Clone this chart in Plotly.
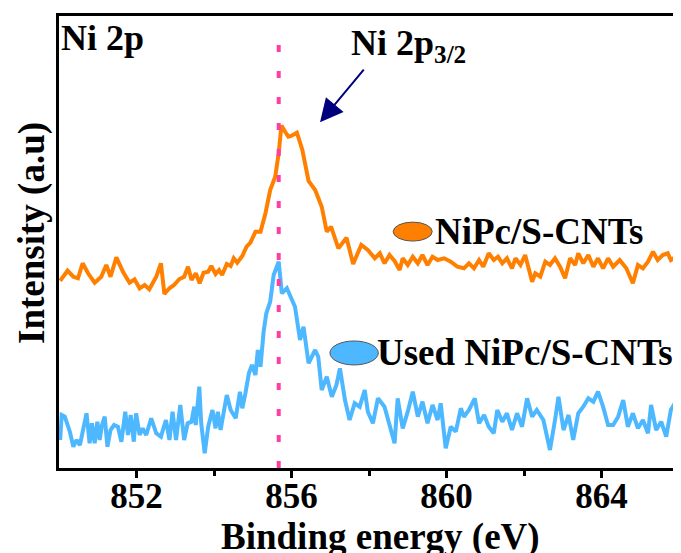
import plotly.graph_objects as go

# Binding energy (eV) and intensity (a.u.)
ev_nipc = [850.03, 850.22, 850.37, 850.49, 850.61, 850.75, 850.92, 851.09, 851.22, 851.33,
           851.48, 851.65, 851.82, 851.95, 852.08, 852.21, 852.33, 852.51, 852.63, 852.72,
           852.85, 852.97, 853.10, 853.23, 853.33, 853.42, 853.53, 853.63, 853.73, 853.85,
           853.93, 854.04, 854.13, 854.21, 854.33, 854.43, 854.51, 854.60, 854.73, 854.84,
           854.94, 855.07, 855.20, 855.33, 855.45, 855.58, 855.67, 855.74, 855.84, 855.92,
           855.99, 856.14, 856.28, 856.44, 856.61, 856.78, 856.91, 857.02, 857.21, 857.42,
           857.59, 857.80, 857.97, 858.15, 858.28, 858.40, 858.53, 858.66, 858.79, 858.87,
           859.00, 859.13, 859.26, 859.38, 859.51, 859.64, 859.77, 859.94, 860.11, 860.28,
           860.45, 860.58, 860.71, 860.84, 860.95, 861.09, 861.22, 861.33, 861.44, 861.56,
           861.69, 861.78, 861.91, 862.03, 862.21, 862.29, 862.42, 862.55, 862.67, 862.80,
           862.93, 863.06, 863.19, 863.32, 863.40, 863.53, 863.66, 863.79, 863.91, 864.04,
           864.17, 864.30, 864.47, 864.64, 864.81, 864.94, 865.07, 865.20, 865.33, 865.45,
           865.58, 865.71, 865.79, 865.92]
int_nipc = [187.3, 197.3, 191.3, 189.7, 204.7, 194.7, 185.3, 191.3, 203.0, 191.3,
            210.7, 196.3, 185.3, 188.7, 179.7, 183.0, 178.7, 191.3, 204.7, 174.0,
            179.7, 183.0, 188.7, 191.3, 201.3, 188.0, 194.7, 184.7, 195.3, 196.3,
            202.0, 194.0, 198.0, 193.0, 204.0, 202.0, 209.7, 205.3, 212.0, 221.3,
            225.3, 236.3, 236.3, 255.0, 278.0, 291.3, 315.0, 342.5, 336.0, 331.3,
            332.0, 335.3, 318.0, 287.0, 278.0, 261.3, 236.3, 241.3, 219.7, 230.3,
            204.0, 223.0, 218.0, 209.7, 214.7, 204.7, 213.0, 207.0, 198.0, 209.7,
            203.0, 211.3, 204.7, 213.0, 203.0, 211.3, 208.0, 209.7, 206.3, 201.3,
            199.7, 204.7, 199.7, 208.0, 201.3, 214.7, 208.0, 211.3, 204.7, 209.7,
            199.7, 209.7, 203.0, 213.0, 186.3, 194.7, 191.3, 206.3, 203.0, 209.7,
            201.3, 189.7, 209.7, 203.0, 214.7, 204.7, 213.0, 201.3, 209.7, 199.7,
            209.7, 201.3, 208.0, 199.7, 184.7, 203.0, 199.7, 206.3, 216.3, 208.0,
            213.0, 214.7, 208.0, 211.3]

ev_used = [850.03, 850.07, 850.15, 850.28, 850.37, 850.45, 850.54, 850.62, 850.71, 850.79,
           850.85, 850.92, 850.99, 851.05, 851.11, 851.18, 851.25, 851.33, 851.42, 851.52,
           851.61, 851.71, 851.78, 851.85, 851.93, 851.99, 852.08, 852.16, 852.25, 852.38,
           852.51, 852.63, 852.76, 852.85, 852.93, 853.02, 853.13, 853.23, 853.32, 853.42,
           853.49, 853.53, 853.62, 853.67, 853.76, 853.85, 853.96, 854.04, 854.10, 854.17,
           854.24, 854.33, 854.43, 854.56, 854.67, 854.73, 854.81, 854.90, 854.98, 855.07,
           855.13, 855.20, 855.28, 855.35, 855.45, 855.54, 855.67, 855.75, 855.88, 855.97,
           856.09, 856.22, 856.31, 856.44, 856.61, 856.69, 856.78, 856.91, 857.04, 857.16,
           857.25, 857.38, 857.50, 857.63, 857.76, 857.89, 857.97, 858.10, 858.23, 858.40,
           858.53, 858.66, 858.74, 858.87, 859.00, 859.13, 859.26, 859.38, 859.51, 859.64,
           859.77, 859.85, 859.98, 860.11, 860.24, 860.37, 860.45, 860.58, 860.73, 860.84,
           860.97, 861.09, 861.22, 861.31, 861.44, 861.56, 861.69, 861.82, 861.95, 862.08,
           862.21, 862.33, 862.50, 862.67, 862.80, 862.89, 863.02, 863.15, 863.27, 863.40,
           863.53, 863.66, 863.79, 863.91, 864.04, 864.17, 864.30, 864.43, 864.56, 864.68,
           864.81, 864.94, 865.07, 865.20, 865.28, 865.41, 865.54, 865.67, 865.79, 865.92]
int_used = [28.0, 53.0, 51.3, 36.3, 21.3, 28.0, 23.0, 36.3, 54.7, 24.7,
            44.7, 24.7, 46.3, 28.0, 43.0, 51.3, 21.3, 38.0, 43.0, 41.3,
            26.3, 56.3, 33.0, 53.0, 26.3, 54.7, 33.0, 39.7, 33.0, 49.7,
            34.7, 31.3, 48.0, 28.0, 56.3, 28.0, 63.0, 28.0, 44.7, 46.3,
            61.3, 43.0, 81.3, 44.7, 14.7, 41.3, 58.0, 39.7, 56.3, 38.0,
            54.7, 73.0, 58.0, 49.7, 76.3, 59.7, 74.7, 94.7, 103.0, 93.0,
            118.0, 101.3, 136.3, 154.7, 166.3, 193.0, 206.3, 174.7, 179.7, 171.3,
            161.3, 128.0, 141.3, 104.7, 118.0, 111.3, 78.0, 91.3, 71.3, 83.0,
            99.7, 68.0, 48.0, 64.7, 61.3, 78.0, 56.3, 44.7, 69.7, 61.3,
            44.7, 24.7, 69.7, 39.7, 56.3, 76.3, 51.3, 66.3, 44.7, 63.0,
            48.0, 64.7, 19.7, 41.3, 36.3, 59.7, 51.3, 58.0, 69.7, 44.7,
            53.0, 41.3, 34.7, 58.0, 46.3, 54.7, 38.0, 54.7, 41.3, 69.7,
            51.3, 58.0, 48.0, 18.0, 48.0, 71.3, 38.0, 53.0, 28.0, 54.7,
            61.3, 69.7, 66.3, 76.3, 61.3, 43.0, 43.0, 51.3, 68.0, 41.3,
            54.7, 39.7, 48.0, 34.7, 63.0, 38.0, 46.3, 31.3, 58.0, 66.3]

peak_pos = 855.67
x_ticks = [852, 856, 860, 864]
x_minor_ticks = [854, 858, 862]

ORANGE = "#ff8000"
BLUE = "#4db8ff"
PINK = "#ff3ea5"
NAVY = "#00007f"
FONT = "Liberation Serif"

fig = go.Figure()
fig.add_trace(go.Scatter(x=ev_nipc, y=int_nipc, mode="lines",
                         line=dict(color=ORANGE, width=4), name="NiPc/S-CNTs"))
fig.add_trace(go.Scatter(x=ev_used, y=int_used, mode="lines",
                         line=dict(color=BLUE, width=4), name="Used NiPc/S-CNTs"))

fig.add_shape(type="line", xref="x", yref="paper", x0=peak_pos, x1=peak_pos,
              y0=0, y1=0.94, line=dict(color=PINK, width=4, dash="7px,19px"))

# legend-like ellipses
fig.add_shape(type="circle", xref="paper", yref="paper", x0=0.539, x1=0.602,
              y0=0.502, y1=0.544, fillcolor=ORANGE, line=dict(color="#555555", width=1))
fig.add_shape(type="circle", xref="paper", yref="paper", x0=0.437, x1=0.515,
              y0=0.228, y1=0.281, fillcolor=BLUE, line=dict(color="#555555", width=1))

ann_font = dict(family=FONT, size=37, color="black", weight="bold")
fig.add_annotation(xref="paper", yref="paper", x=0.603, y=0.524, text="NiPc/S-CNTs",
                   showarrow=False, xanchor="left", yanchor="middle", font=ann_font)
fig.add_annotation(xref="paper", yref="paper", x=0.51, y=0.256, text="Used NiPc/S-CNTs",
                   showarrow=False, xanchor="left", yanchor="middle", font=ann_font)
fig.add_annotation(xref="paper", yref="paper", x=0.0, y=1.0, text="Ni 2p",
                   showarrow=False, xanchor="left", yanchor="top",
                   font=dict(family=FONT, size=36, color="black", weight="bold"))
fig.add_annotation(xref="paper", yref="paper", x=0.467, y=0.935,
                   text="Ni 2p<sub>3/2</sub>",
                   showarrow=False, xanchor="left", yanchor="middle",
                   font=dict(family=FONT, size=36, color="black", weight="bold"))
fig.add_annotation(xref="paper", yref="paper", x=0.421, y=0.765, text="",
                   showarrow=True, ax=45, ay=-54, arrowcolor=NAVY, arrowwidth=2,
                   arrowhead=2, arrowsize=2.3)

# axis titles as annotations
title_font = dict(family=FONT, size=37, color="black", weight="bold")
fig.add_annotation(xref="paper", yref="paper", x=0.518, y=-0.153,
                   text="Binding energy (eV)", showarrow=False,
                   xanchor="center", yanchor="middle", font=title_font)
fig.add_annotation(xref="paper", yref="paper", x=-0.0435, y=0.52,
                   text="Intensity (a.u)", showarrow=False, textangle=-90,
                   xanchor="center", yanchor="middle", font=title_font)

# the page places the figure 8px in from the top-left corner
fig.update_layout(
    width=673, height=545,
    margin=dict(l=51, r=2, t=8, b=85, autoexpand=False),
    plot_bgcolor="white", paper_bgcolor="white",
    showlegend=False,
    font=dict(family=FONT, color="black"),
    xaxis=dict(range=[850, 866], tickvals=x_ticks, ticks="outside", ticklen=7,
               tickwidth=3, tickcolor="black", automargin=False,
               ticklabelstandoff=-12,
               tickfont=dict(family=FONT, size=35, color="black", weight="bold"),
               minor=dict(tickvals=x_minor_ticks, ticks="outside", ticklen=5,
                          tickwidth=3, tickcolor="black"),
               showline=True, linecolor="black", linewidth=3, mirror=True,
               showgrid=False, zeroline=False),
    yaxis=dict(range=[0, 452], showticklabels=False, ticks="", automargin=False,
               showline=True, linecolor="black", linewidth=3, mirror=True,
               showgrid=False, zeroline=False),
)

fig.write_html("out.html")
